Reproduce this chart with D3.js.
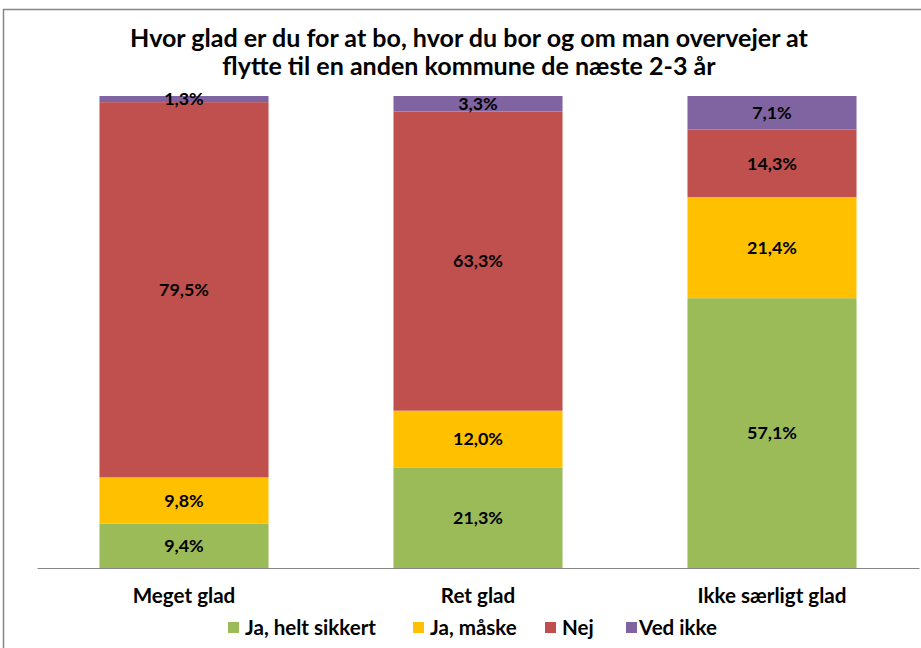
<!DOCTYPE html>
<html>
<head>
<meta charset="utf-8">
<script src="https://cdn.jsdelivr.net/npm/d3@7"></script>
<style>
    body { margin: 0; background: #fff; }
    text { font-family: Lato, "Open Sans", sans-serif; font-weight: bold; fill: #000; }
</style>
</head>
<body>
<div class="chart"></div>
<script>
var categories = ["Meget glad", "Ret glad", "Ikke særligt glad"];
var seriesNames = ["Ja, helt sikkert", "Ja, måske", "Nej", "Ved ikke"];
var seriesColors = ["#9BBB59", "#FFC000", "#C0504D", "#8064A2"];

var jaHeltSikkert = [9.4, 21.3, 57.1];
var jaMaaske = [9.8, 12.0, 21.4];
var nej = [79.5, 63.3, 14.3];
var vedIkke = [1.3, 3.3, 7.1];

var titleLines = ["Hvor glad er du for at bo, hvor du bor og om man overvejer at",
                  "flytte til en anden kommune de næste 2-3 år"];

createChart();

// font size that makes a sample string as wide as in the reference
function fitSize(svg, sample, targetWidth) {
    var t = svg.append("text").style("font-size", "20px").text(sample);
    var w = t.node().getComputedTextLength();
    t.remove();
    return 20 * targetWidth / w;
}

function createChart(){
    var svgWidth = 921;
    var svgHeight = 648;

    var margin = { top: 96, right: 2, bottom: 80, left: 37 };
    var width = svgWidth - margin.left - margin.right;
    var height = svgHeight - margin.top - margin.bottom;

    var svg = d3.select(".chart")
        .append("svg")
        .attr("width", svgWidth).attr("height", svgHeight);

    var titleSize = fitSize(svg, titleLines[0], 678);
    var labelSize = fitSize(svg, "79,5%", 50);
    var catSize = fitSize(svg, "Ikke særligt glad", 149);
    var legendSize = fitSize(svg, "Ja, helt sikkert", 131);

    // chart frame
    svg.append("rect")
        .attr("x", 3.5).attr("y", 9.5)
        .attr("width", svgWidth + 10).attr("height", svgHeight + 10)
        .attr("fill", "none")
        .attr("stroke", "#868686")
        .attr("stroke-width", 1.5);

    svg.selectAll(".title")
        .data(titleLines)
        .enter()
        .append("text")
        .attr("class", "title")
        .attr("x", 469)
        .attr("y", (d, i) => 46.5 + i * 28)
        .attr("text-anchor", "middle")
        .style("font-size", titleSize + "px")
        .text(d => d);

    var seriesValues = [jaHeltSikkert, jaMaaske, nej, vedIkke];
    var data = categories.map(function(c, i) {
        var row = { category: c };
        seriesNames.forEach(function(s, j) { row[s] = seriesValues[j][i]; });
        return row;
    });

    var stacked = d3.stack()
        .keys(seriesNames)
        .offset(d3.stackOffsetExpand)(data);

    var xScale = d3.scaleBand()
        .domain(categories).range([0, width])
        .paddingInner(0.425).paddingOuter(0.2125);

    var yScale = d3.scaleLinear()
        .domain([0, 1]).range([height, 0]);

    var chartGroup = svg.append("g")
        .attr("transform", `translate(${margin.left}, ${margin.top})`);

    var layers = chartGroup.selectAll(".layer")
        .data(stacked)
        .enter()
        .append("g")
        .attr("class", "layer")
        .attr("fill", (d, i) => seriesColors[i]);

    layers.selectAll("rect")
        .data(d => d)
        .enter()
        .append("rect")
        .attr("x", d => xScale(d.data.category))
        .attr("y", d => yScale(d[1]))
        .attr("width", xScale.bandwidth())
        .attr("height", d => yScale(d[0]) - yScale(d[1]));

    layers.selectAll("text")
        .data((d, i) => d.map(v => ({ v: v, value: seriesValues[i][categories.indexOf(v.data.category)] })))
        .enter()
        .append("text")
        .attr("x", d => xScale(d.v.data.category) + xScale.bandwidth() / 2)
        .attr("y", d => (yScale(d.v[0]) + yScale(d.v[1])) / 2)
        .attr("dy", "0.35em")
        .attr("text-anchor", "middle")
        .style("font-size", labelSize + "px")
        .text(d => d.value.toFixed(1).replace(".", ",") + "%");

    var bottomAxis = d3.axisBottom(xScale).tickSize(0).tickPadding(20);
    var axisG = chartGroup.append("g")
        .attr("transform", `translate(0, ${height})`)
        .call(bottomAxis);
    axisG.select(".domain").attr("stroke", "#868686").attr("stroke-width", 1.2);
    axisG.selectAll("text")
        .style("font-size", catSize + "px")
        .style("font-family", "Lato, sans-serif");

    // legend
    var legendX = [228, 413, 545, 626];
    var legend = svg.append("g").selectAll("g")
        .data(seriesNames)
        .enter()
        .append("g")
        .attr("transform", (d, i) => `translate(${legendX[i]}, 622)`);

    legend.append("rect")
        .attr("width", 11).attr("height", 11)
        .attr("fill", (d, i) => seriesColors[i]);

    legend.append("text")
        .attr("x", (d, i) => i == 3 ? 13 : 17).attr("y", 5.5)
        .attr("dy", "0.35em")
        .style("font-size", legendSize + "px")
        .text(d => d);
}
</script>
</body>
</html>
